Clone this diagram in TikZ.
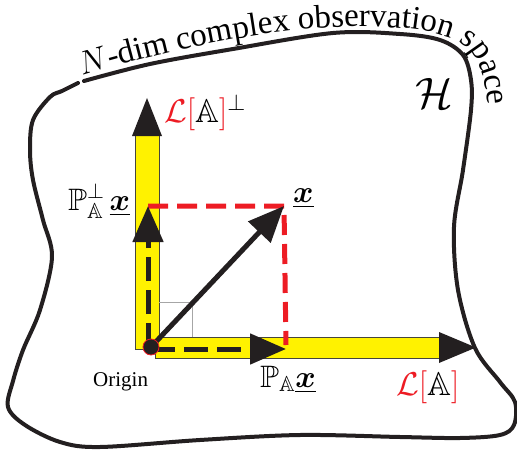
\RequirePackage{fix-cm}
\documentclass[tikz,border=0pt]{standalone}
\usepackage{fontspec}
\setmainfont{Liberation Serif}
\usepackage{amsmath,amssymb,bm}
\usetikzlibrary{arrows.meta,decorations.text}
\definecolor{myred}{RGB}{237,28,36}
\definecolor{myyellow}{RGB}{255,242,0}
\definecolor{ink}{RGB}{35,31,32}
\definecolor{barline}{RGB}{70,70,60}
\begin{document}
\begin{tikzpicture}[x=1pt,y=-1pt,
  blob/.style={line width=4pt, ink, line join=round, line cap=round},
  bar/.style={fill=myyellow, draw=barline, line width=0.8pt},
  bighead/.style={fill=ink},
  dasharrow/.style={line width=5pt, ink, dash pattern=on 24pt off 9pt, -{Triangle[length=36pt,width=30pt]}},
  solidarrow/.style={line width=5pt, ink, -{Triangle[length=36pt,width=30pt]}},
  reddash/.style={line width=5pt, myred, dash pattern=on 20pt off 9pt},
  lbl/.style={inner sep=0pt, font=\fontsize{31}{36}\selectfont},
  lblbig/.style={inner sep=0pt, font=\fontsize{33}{38}\selectfont},
]
\useasboundingbox (0,0) rectangle (517,452);

% outline of the observation space
\draw[blob] plot[smooth, tension=0.55] coordinates {
  (84,81) (150,64) (233,49) (333,33) (400,34) (440,40) (463,55) (471,80)
  (471,110) (463,170) (454,227) (458,290) (475,348) (500,382) (515,402)
  (514,425) (500,435) (460,438) (400,437) (300,435) (200,440) (100,447)
  (60,442) (25,425) (8,407) (13,381) (23,350) (40,310) (52,257) (43,220)
  (33,180) (30,150) (33,120) (50,97) (62,91) (78,83)};

% curved title
\path[decorate, decoration={text along path, text align=left,
  text={|\fontsize{33}{38}\selectfont|{$N$}-dim complex observation space}}]
  (82,76) .. controls (140,58) and (250,30) .. (340,27)
  .. controls (400,25) and (450,30) .. (470,50)
  .. controls (485,66) and (489,90) .. (489,160);

% named points
\coordinate (O) at (151,347);
\coordinate (X) at (284,206);
\coordinate (PX) at (286,349);
\coordinate (PPX) at (148,206);
\coordinate (Oh) at (151,349);
\coordinate (Ov) at (148,347);

% yellow subspaces
\draw[bar] (135,135) -- (135,349) -- (155,349) -- (155,358) -- (440,358)
  -- (440,337) -- (159,337) -- (159,135) -- cycle;
\fill[bighead] (132,136) -- (147,98) -- (162,136) -- cycle;
\fill[bighead] (439,332) -- (476,347.5) -- (439,363) -- cycle;

% right-angle mark
\draw[gray!70, line width=0.8pt] (159,302) -- (192,302) -- (192,337);

% projections
\draw[reddash] (PPX) -- (X) -- (286,345);
\draw[dasharrow] (Oh) -- (PX);
\draw[dasharrow] (Ov) -- (PPX);
\draw[solidarrow] (O) -- (X);
\fill[ink, draw=myred, line width=0.8pt] (O) circle (8);

% labels
\node[lblbig, anchor=base west] (lperp) at (164,122)
  {$\textcolor{myred}{\mathcal{L}[}\mathbb{A}\textcolor{myred}{]}^{\perp}$};
\node[lbl, anchor=base west] (pperp) at (68,210)
  {$\mathbb{P}_{\mathbb{A}}^{\perp}\,\underline{\bm{x}}$};
\node[lbl, anchor=base west] (xl) at (293,202) {$\underline{\bm{x}}$};
\node[lbl, anchor=base west] (pa) at (260,387) {$\mathbb{P}_{\mathbb{A}}\underline{\bm{x}}$};
\node[lblbig, anchor=base west] (la) at (396,395)
  {$\textcolor{myred}{\mathcal{L}[}\mathbb{A}\textcolor{myred}{]}$};
\node[inner sep=0pt, anchor=base west, font=\fontsize{21}{24}\selectfont] (orig) at (93,386) {Origin};
\node[inner sep=0pt, font=\fontsize{44}{50}\selectfont] (H) at (434,93) {$\mathcal{H}$};
\end{tikzpicture}
\end{document}
